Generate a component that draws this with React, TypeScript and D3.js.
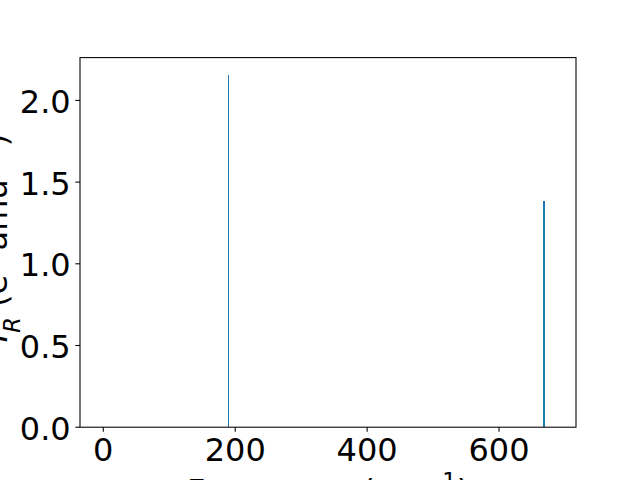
import React from "react";
import * as d3 from "d3";

const frequencies = [189.5, 667.2, 668.8];
const intensities = [2.155, 1.386, 1.386];
const xTicks = [0, 200, 400, 600];
const yTicks = [0.0, 0.5, 1.0, 1.5, 2.0];

const W = 640;
const H = 480;
const left = 80;
const right = 576;
const top = 57.6;
const bottom = 427.2;
const FONT = "DejaVu Sans, sans-serif";
const FS = 32;

export default function App() {
  const x = d3.scaleLinear().domain([-35.3, 716.7]).range([left, right]);
  const y = d3.scaleLinear().domain([0, 2.262]).range([bottom, top]);
  const tickLen = 4.67;
  const pad = 4.67;

  return (
    <div style={{ position: "fixed", left: 0, top: 0 }}>
      <svg width={W} height={H} style={{ display: "block", background: "#fff" }}>
        <rect x={0} y={0} width={W} height={H} fill="#fff" />
        {frequencies.map((f, i) => (
          <line
            key={i}
            x1={x(f)}
            x2={x(f)}
            y1={y(0)}
            y2={y(intensities[i])}
            stroke="#1f77b4"
            strokeWidth={1}
            shapeRendering="crispEdges"
          />
        ))}
        <rect
          x={left}
          y={top}
          width={right - left}
          height={bottom - top}
          fill="none"
          stroke="#000"
          strokeWidth={1.07}
        />
        {xTicks.map((t) => (
          <g key={"x" + t}>
            <line x1={x(t)} x2={x(t)} y1={bottom} y2={bottom + tickLen} stroke="#000" strokeWidth={1.07} />
            <text
              x={x(t)}
              y={bottom + tickLen + pad + FS * 0.76}
              textAnchor="middle"
              fontFamily={FONT}
              fontSize={FS}
              fill="#000"
            >
              {t}
            </text>
          </g>
        ))}
        {yTicks.map((t) => (
          <g key={"y" + t}>
            <line x1={left - tickLen} x2={left} y1={y(t)} y2={y(t)} stroke="#000" strokeWidth={1.07} />
            <text
              x={left - tickLen - pad}
              y={y(t) + FS * 0.39}
              textAnchor="end"
              fontFamily={FONT}
              fontSize={FS}
              fill="#000"
            >
              {t.toFixed(1)}
            </text>
          </g>
        ))}
        <text
          x={(left + right) / 2}
          y={501.6}
          textAnchor="middle"
          fontFamily={FONT}
          fontSize={FS}
          fill="#000"
        >
          Frequency (cm
          <tspan baselineShift="super" fontSize={FS * 0.7}>−1</tspan>
          )
        </text>
        <text
          transform={`translate(7, 238) rotate(-90)`}
          textAnchor="middle"
          fontFamily={FONT}
          fontSize={FS}
          fill="#000"
        >
          <tspan fontStyle="italic">I</tspan>
          <tspan fontStyle="italic" baselineShift="sub" fontSize={FS * 0.7}>R</tspan>
          <tspan> (e</tspan>
          <tspan baselineShift="super" fontSize={FS * 0.7}>2</tspan>
          <tspan> amu</tspan>
          <tspan baselineShift="super" fontSize={FS * 0.7}>−1</tspan>
          <tspan>)</tspan>
        </text>
      </svg>
    </div>
  );
}
